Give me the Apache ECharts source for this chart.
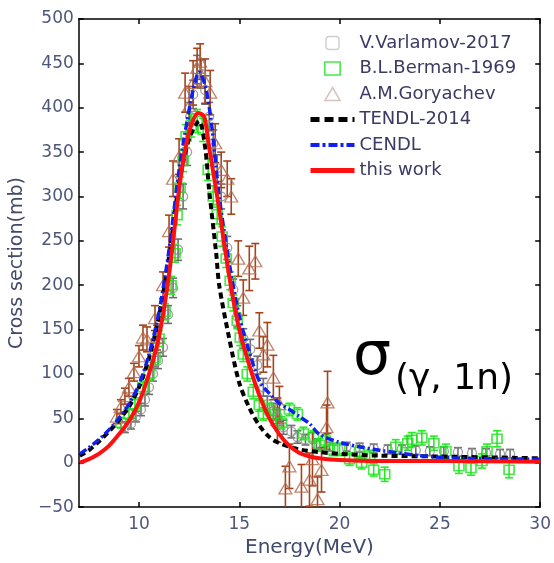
<!DOCTYPE html>
<html>
<head>
<meta charset="utf-8">
<script src="https://cdn.jsdelivr.net/npm/echarts@6/dist/echarts.min.js"></script>
<style>
html, body { margin: 0; padding: 0; background: #fff; }
#chart { width: 554px; height: 563px; }
</style>
</head>
<body>
<div id="chart"></div>
<script>
var xTicks = [10, 15, 20, 25, 30];

// measured points: [E (MeV), sigma (mb), error (mb)]
var varlamov = [
  [9.3, 40, 6], [9.6, 44, 6], [9.85, 52, 6], [10.1, 60, 7], [10.3, 71, 7], [10.5, 85, 8],
  [10.7, 100, 8], [10.95, 115, 9], [11.2, 130, 10], [11.45, 167, 10], [11.7, 197, 11],
  [11.95, 240, 12], [12.2, 300, 14], [12.4, 350, 15], [12.55, 390, 16], [12.7, 415, 16],
  [12.9, 443, 16], [13.1, 438, 16], [13.3, 420, 16], [13.5, 390, 16], [13.7, 360, 15],
  [13.9, 332, 15], [14.1, 300, 14], [14.4, 242, 13], [14.7, 195, 12], [14.9, 165, 12],
  [15.2, 140, 11], [15.55, 128, 11], [15.9, 110, 10], [16.2, 85, 10], [16.4, 66, 9],
  [16.7, 58, 9], [16.9, 52, 8], [17.2, 40, 8], [17.6, 35, 7], [17.9, 29, 7], [18.3, 26, 6],
  [18.85, 21, 6], [19.5, 18, 5], [20.35, 18, 5], [21, 17, 5], [21.7, 16, 5], [22.4, 15, 5],
  [23.1, 15, 5], [23.8, 14, 5], [24.5, 13, 5], [25.2, 13, 5], [25.9, 12, 5], [26.6, 11, 5],
  [27.3, 11, 5], [28, 10, 5], [28.5, 10, 5]
];
var berman = [
  [9.1, 45, 6], [9.5, 55, 6], [9.8, 66, 7], [10.2, 85, 7], [10.5, 100, 8], [10.8, 118, 8],
  [11.0, 140, 9], [11.3, 170, 9], [11.6, 200, 10], [11.8, 236, 10], [11.9, 279, 11],
  [12.05, 310, 12], [12.2, 340, 12], [12.35, 368, 13], [12.6, 380, 13], [12.9, 385, 13],
  [13.2, 375, 13], [13.45, 330, 12], [13.7, 300, 12], [13.9, 280, 11], [14.15, 255, 11],
  [14.35, 230, 10], [14.55, 205, 10], [14.7, 180, 9], [14.9, 160, 9], [15.05, 141, 9],
  [15.2, 122, 8], [15.4, 100, 8], [15.7, 80, 8], [16.0, 65, 7], [16.2, 55, 7], [16.5, 60, 7],
  [16.8, 55, 7], [17.1, 45, 7], [17.5, 60, 7], [17.9, 55, 7], [18.2, 33, 7], [18.7, 29, 7],
  [19.0, 20, 7], [19.3, 25, 7], [19.65, 15, 7], [20.0, 15, 7], [20.5, 4, 7], [21.0, 12, 7],
  [21.1, 0, 7], [21.5, 7, 7], [21.7, -8, 7], [22.25, -13, 8], [22.8, 18, 8], [23.4, 22, 8],
  [23.6, 26, 8], [24.1, 28, 8], [24.7, 22, 8], [25.3, 13, 8], [25.95, -4, 8], [26.55, -6, 8],
  [27.1, 2, 8], [27.35, 13, 8], [27.85, 27, 9], [28.45, -8, 9]
];
var goryachev = [
  [8.9, 52, 8], [9.1, 63, 8], [9.3, 75, 9], [9.5, 85, 10], [9.75, 102, 10], [10.0, 120, 12],
  [10.2, 141, 14], [10.4, 139, 14], [10.8, 163, 14], [10.9, 141, 14], [11.2, 200, 15],
  [11.5, 261, 18], [11.7, 320, 20], [12.0, 345, 20], [12.3, 417, 22], [12.5, 402, 22],
  [12.7, 428, 25], [12.9, 445, 22], [13.05, 452, 20], [13.3, 430, 25], [13.55, 417, 25],
  [13.8, 360, 22], [14.1, 330, 20], [14.4, 320, 20], [14.6, 300, 20], [14.95, 230, 20],
  [15.2, 186, 20], [15.5, 219, 25], [15.8, 227, 20], [16.0, 149, 20], [16.2, 122, 20],
  [16.4, 133, 25], [16.7, 96, 25], [16.9, 48, 25], [17.0, 66, 20], [17.3, -29, 25],
  [17.5, -4, 25], [18.1, -27, 25], [18.5, -19, 30], [18.65, 4, 30], [18.9, -41, 25],
  [19.1, -8, 25], [19.35, 40, 25], [19.4, 68, 35]
];

// evaluated curves: [E (MeV), sigma (mb)]
var tendl = [
  [7.05, 8], [7.5, 14], [8, 24], [8.5, 35], [9, 48], [9.5, 63], [10, 85], [10.5, 118],
  [11, 165], [11.5, 232], [12, 315], [12.5, 365], [13, 385], [13.3, 355], [13.5, 307],
  [13.85, 236], [14, 200], [14.5, 140], [15, 90], [15.5, 62], [16, 42], [16.5, 29], [17, 22],
  [18, 15], [19, 12], [20, 10], [22, 8], [25, 7], [30, 5]
];
var cendl = [
  [7.05, 10], [7.5, 17], [8, 26], [8.5, 37], [9, 50], [9.5, 66], [10, 88], [10.5, 122],
  [11, 170], [11.5, 240], [12, 330], [12.4, 385], [12.7, 420], [13, 440], [13.3, 425],
  [13.6, 385], [14, 300], [14.5, 225], [15, 165], [15.5, 125], [16, 92], [16.5, 78], [17, 67],
  [17.5, 60], [18, 52], [18.5, 44], [19, 32], [20, 23], [21, 18], [22, 14], [24, 8],
  [26, 5], [30, 4]
];
var thisWork = [
  [7.05, 0], [7.5, 4], [8, 10], [8.5, 19], [9, 32], [9.5, 47], [10, 68], [10.5, 100],
  [11, 142], [11.5, 212], [12, 308], [12.3, 352], [12.6, 380], [12.95, 394], [13.25, 390],
  [13.5, 355], [13.9, 300], [14.5, 210], [15, 150], [15.5, 110], [16, 76], [16.5, 50],
  [17, 32], [17.5, 19], [18, 11], [18.5, 7], [19, 5], [20, 3], [22, 2], [25, 2], [30, 1]
];

var FONT = 'DejaVu Sans';
var labelColor = '#4d5779';
var CLEAR = 'rgba(0,0,0,0)';

function errorBars(name, data, color) {
  return {
    type: 'custom',
    name: name,
    data: data,
    clip: true,
    silent: true,
    encode: { x: 0, y: 1 },
    renderItem: function (params, api) {
      var x = api.value(0), y = api.value(1), e = api.value(2);
      var hi = api.coord([x, y + e]);
      var lo = api.coord([x, y - e]);
      var st = { stroke: color, lineWidth: 1.6 };
      return {
        type: 'group',
        children: [
          { type: 'line', shape: { x1: hi[0], y1: hi[1], x2: lo[0], y2: lo[1] }, style: st },
          { type: 'line', shape: { x1: hi[0] - 4, y1: hi[1], x2: hi[0] + 4, y2: hi[1] }, style: st },
          { type: 'line', shape: { x1: lo[0] - 4, y1: lo[1], x2: lo[0] + 4, y2: lo[1] }, style: st }
        ]
      };
    }
  };
}

function xAx(pos) {
  return {
    type: 'value', position: pos, min: 7, max: 30,
    axisLine: { show: true, onZero: false, lineStyle: { color: '#000', width: 1.5 } },
    axisTick: { show: true, inside: true, length: 5, customValues: xTicks, lineStyle: { color: '#000', width: 1.5 } },
    axisLabel: {
      show: pos === 'bottom', customValues: xTicks, margin: 9,
      fontFamily: FONT, fontSize: 17, color: labelColor
    },
    splitLine: { show: false },
    name: pos === 'bottom' ? 'Energy(MeV)' : '',
    nameLocation: 'middle', nameGap: 30,
    nameTextStyle: { fontFamily: FONT, fontSize: 20, color: '#404a6c' }
  };
}

function yAx(pos) {
  return {
    type: 'value', position: pos, min: -50, max: 500, interval: 50,
    axisLine: { show: true, onZero: false, lineStyle: { color: '#000', width: 1.5 } },
    axisTick: { show: true, inside: true, length: 5, lineStyle: { color: '#000', width: 1.5 } },
    axisLabel: {
      show: pos === 'left', margin: 5,
      fontFamily: FONT, fontSize: 17, color: labelColor,
      formatter: function (v) { return String(v).replace('-', '\u2212'); }
    },
    splitLine: { show: false },
    name: pos === 'left' ? 'Cross section(mb)' : '',
    nameLocation: 'middle', nameGap: 48,
    nameTextStyle: { fontFamily: FONT, fontSize: 19, color: '#404a6c' }
  };
}

function curve(name, data, lineStyle) {
  return {
    type: 'line', name: name, data: data, symbol: 'none', smooth: 0.3,
    itemStyle: { color: CLEAR, borderColor: CLEAR, borderWidth: 0 },
    lineStyle: lineStyle
  };
}

var noMark = { color: CLEAR, borderColor: CLEAR, borderWidth: 0 };

var chart = echarts.init(document.getElementById('chart'));
var option = {
  animation: false,
  backgroundColor: '#fff',
  grid: { left: 78, right: 13, top: 19, bottom: 52 },
  xAxis: [xAx('bottom'), xAx('top')],
  yAxis: [yAx('left'), yAx('right')],
  legend: {
    orient: 'vertical', left: 303, top: 29, padding: 5,
    itemWidth: 44, itemHeight: 13, itemGap: 7.5,
    symbolKeepAspect: true,
    selectedMode: false,
    textStyle: { fontFamily: FONT, fontSize: 18, lineHeight: 18, color: '#3b3a63' },
    data: [
      { name: 'V.Varlamov-2017',
        icon: 'path://M3,0H9A3,3,0,0,1,12,3V9A3,3,0,0,1,9,12H3A3,3,0,0,1,0,9V3A3,3,0,0,1,3,0Z',
        itemStyle: { color: CLEAR, borderColor: '#c4c4c4', borderWidth: 1.5 } },
      { name: 'B.L.Berman-1969', icon: 'path://M0,0H13V11H0Z',
        itemStyle: { color: CLEAR, borderColor: '#1ee01e', borderWidth: 1.6 } },
      { name: 'A.M.Goryachev', icon: 'path://M7,0L14,12H0Z',
        itemStyle: { color: CLEAR, borderColor: '#cdb3b0', borderWidth: 1.5 } },
      { name: 'TENDL-2014', itemStyle: noMark,
        lineStyle: { color: '#000', width: 5, type: [9, 5] } },
      { name: 'CENDL', itemStyle: noMark,
        lineStyle: { color: '#1020f0', width: 4, type: [9, 3, 3, 3] } },
      { name: 'this work', itemStyle: noMark,
        lineStyle: { color: '#ff1010', width: 5, type: 'solid' } }
    ]
  },
  graphic: [
    { type: 'text', left: 353, top: 328, silent: true,
      style: { text: '\u03c3', fontFamily: FONT, fontSize: 60, fill: '#000' } },
    { type: 'text', left: 395, top: 362, silent: true,
      style: { text: '(\u03b3, 1n)', fontFamily: FONT, fontSize: 36, fill: '#000' } }
  ],
  series: [
    errorBars('varlamov err', varlamov, '#6e6e6e'),
    {
      type: 'scatter', name: 'V.Varlamov-2017', data: varlamov, encode: { x: 0, y: 1 },
      symbol: 'circle', symbolSize: 9,
      itemStyle: { color: CLEAR, borderColor: '#8a8a8a', borderWidth: 1.3 }
    },
    errorBars('berman err', berman, '#22ee22'),
    {
      type: 'scatter', name: 'B.L.Berman-1969', data: berman, encode: { x: 0, y: 1 },
      symbol: 'rect', symbolSize: [10, 9],
      itemStyle: { color: CLEAR, borderColor: '#1ee01e', borderWidth: 1.6 }
    },
    errorBars('goryachev err', goryachev, '#a4441c'),
    {
      type: 'scatter', name: 'A.M.Goryachev', data: goryachev, encode: { x: 0, y: 1 },
      symbol: 'triangle', symbolSize: [13, 11],
      itemStyle: { color: CLEAR, borderColor: '#b0684a', borderWidth: 1.3 }
    },
    curve('TENDL-2014', tendl, { color: '#000', width: 4, type: [6, 4] }),
    curve('CENDL', cendl, { color: '#1020f0', width: 3.5, type: [8, 3, 2, 3] }),
    curve('this work', thisWork, { color: '#ff1010', width: 4 })
  ]
};
chart.setOption(option);
</script>
</body>
</html>
